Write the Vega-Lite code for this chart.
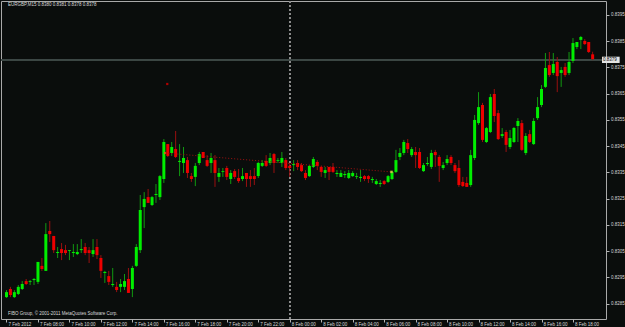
{
"$schema":"https://vega.github.io/schema/vega-lite/v6.json",
"width":605,"height":318,
"autosize":{"type":"none"},
"padding":{"left":1,"top":1,"right":19,"bottom":8},
"background":"#0a0d0c",
"config":{"view":{"stroke":"#a9a9a9","strokeWidth":1,"fill":"#0a0d0c"},"font":"Liberation Sans",
"axis":{"domain":false,"grid":false,"tickColor":"#b4b4b4","tickSize":3,"labelColor":"#d8d8d8","labelFontSize":4.5,"labelFont":"Liberation Sans"}},
"data":{"values":[
{"t":"2012-02-07T06:00","o":0.82875,"h":0.82902,"l":0.82872,"c":0.82894},
{"t":"2012-02-07T06:15","o":0.82906,"h":0.82914,"l":0.82875,"c":0.82883},
{"t":"2012-02-07T06:30","o":0.82875,"h":0.82902,"l":0.82872,"c":0.82894},
{"t":"2012-02-07T06:45","o":0.82887,"h":0.82921,"l":0.82883,"c":0.82914},
{"t":"2012-02-07T07:00","o":0.82906,"h":0.82936,"l":0.82902,"c":0.82925},
{"t":"2012-02-07T07:15","o":0.82936,"h":0.82944,"l":0.82921,"c":0.82925},
{"t":"2012-02-07T07:30","o":0.82933,"h":0.82940,"l":0.82921,"c":0.82936},
{"t":"2012-02-07T07:45","o":0.82940,"h":0.82948,"l":0.82921,"c":0.82944},
{"t":"2012-02-07T08:00","o":0.82933,"h":0.83009,"l":0.82925,"c":0.83009},
{"t":"2012-02-07T08:15","o":0.82994,"h":0.83024,"l":0.82975,"c":0.82982},
{"t":"2012-02-07T08:30","o":0.82975,"h":0.83157,"l":0.82975,"c":0.83115},
{"t":"2012-02-07T08:45","o":0.83127,"h":0.83165,"l":0.83085,"c":0.83115},
{"t":"2012-02-07T09:00","o":0.83108,"h":0.83108,"l":0.83043,"c":0.83054},
{"t":"2012-02-07T09:15","o":0.83043,"h":0.83066,"l":0.83024,"c":0.83047},
{"t":"2012-02-07T09:30","o":0.83058,"h":0.83081,"l":0.83016,"c":0.83043},
{"t":"2012-02-07T09:45","o":0.83054,"h":0.83074,"l":0.83035,"c":0.83043},
{"t":"2012-02-07T10:00","o":0.83051,"h":0.83054,"l":0.83016,"c":0.83054},
{"t":"2012-02-07T10:15","o":0.83043,"h":0.83077,"l":0.83028,"c":0.83047},
{"t":"2012-02-07T10:30","o":0.83039,"h":0.83077,"l":0.83035,"c":0.83047},
{"t":"2012-02-07T10:45","o":0.83054,"h":0.83096,"l":0.83043,"c":0.83058},
{"t":"2012-02-07T11:00","o":0.83066,"h":0.83081,"l":0.83035,"c":0.83043},
{"t":"2012-02-07T11:15","o":0.83054,"h":0.83066,"l":0.83005,"c":0.83043},
{"t":"2012-02-07T11:30","o":0.83039,"h":0.83096,"l":0.83028,"c":0.83054},
{"t":"2012-02-07T11:45","o":0.83066,"h":0.83096,"l":0.83020,"c":0.83035},
{"t":"2012-02-07T12:00","o":0.83024,"h":0.83035,"l":0.82948,"c":0.82975},
{"t":"2012-02-07T12:15","o":0.82967,"h":0.82975,"l":0.82929,"c":0.82971},
{"t":"2012-02-07T12:30","o":0.82955,"h":0.82975,"l":0.82921,"c":0.82933},
{"t":"2012-02-07T12:45","o":0.82921,"h":0.82986,"l":0.82914,"c":0.82925},
{"t":"2012-02-07T13:00","o":0.82914,"h":0.82933,"l":0.82894,"c":0.82902},
{"t":"2012-02-07T13:15","o":0.82914,"h":0.82944,"l":0.82894,"c":0.82925},
{"t":"2012-02-07T13:30","o":0.82914,"h":0.82963,"l":0.82902,"c":0.82936},
{"t":"2012-02-07T13:45","o":0.82944,"h":0.82986,"l":0.82891,"c":0.82891},
{"t":"2012-02-07T14:00","o":0.82906,"h":0.82994,"l":0.82875,"c":0.82986},
{"t":"2012-02-07T14:15","o":0.82994,"h":0.83077,"l":0.82990,"c":0.83066},
{"t":"2012-02-07T14:30","o":0.83054,"h":0.83264,"l":0.83043,"c":0.83207},
{"t":"2012-02-07T14:45","o":0.83218,"h":0.83275,"l":0.83138,"c":0.83249},
{"t":"2012-02-07T15:00","o":0.83256,"h":0.83287,"l":0.83234,"c":0.83234},
{"t":"2012-02-07T15:15","o":0.83226,"h":0.83260,"l":0.83222,"c":0.83256},
{"t":"2012-02-07T15:30","o":0.83264,"h":0.83306,"l":0.83234,"c":0.83268},
{"t":"2012-02-07T15:45","o":0.83256,"h":0.83340,"l":0.83245,"c":0.83336},
{"t":"2012-02-07T16:00","o":0.83325,"h":0.83477,"l":0.83310,"c":0.83466},
{"t":"2012-02-07T16:15","o":0.83458,"h":0.83458,"l":0.83409,"c":0.83413},
{"t":"2012-02-07T16:30","o":0.83424,"h":0.83466,"l":0.83413,"c":0.83447},
{"t":"2012-02-07T16:45","o":0.83439,"h":0.83508,"l":0.83405,"c":0.83409},
{"t":"2012-02-07T17:00","o":0.83390,"h":0.83458,"l":0.83336,"c":0.83394},
{"t":"2012-02-07T17:15","o":0.83386,"h":0.83447,"l":0.83348,"c":0.83405},
{"t":"2012-02-07T17:30","o":0.83397,"h":0.83409,"l":0.83329,"c":0.83348},
{"t":"2012-02-07T17:45","o":0.83336,"h":0.83348,"l":0.83314,"c":0.83325},
{"t":"2012-02-07T18:00","o":0.83333,"h":0.83386,"l":0.83298,"c":0.83375},
{"t":"2012-02-07T18:15","o":0.83386,"h":0.83428,"l":0.83378,"c":0.83420},
{"t":"2012-02-07T18:30","o":0.83428,"h":0.83428,"l":0.83405,"c":0.83405},
{"t":"2012-02-07T18:45","o":0.83397,"h":0.83416,"l":0.83371,"c":0.83375},
{"t":"2012-02-07T19:00","o":0.83386,"h":0.83424,"l":0.83348,"c":0.83405},
{"t":"2012-02-07T19:15","o":0.83397,"h":0.83416,"l":0.83295,"c":0.83348},
{"t":"2012-02-07T19:30","o":0.83333,"h":0.83367,"l":0.83314,"c":0.83348},
{"t":"2012-02-07T19:45","o":0.83352,"h":0.83367,"l":0.83333,"c":0.83355},
{"t":"2012-02-07T20:00","o":0.83367,"h":0.83375,"l":0.83321,"c":0.83333},
{"t":"2012-02-07T20:15","o":0.83325,"h":0.83359,"l":0.83306,"c":0.83348},
{"t":"2012-02-07T20:30","o":0.83355,"h":0.83363,"l":0.83325,"c":0.83333},
{"t":"2012-02-07T20:45","o":0.83329,"h":0.83363,"l":0.83310,"c":0.83317},
{"t":"2012-02-07T21:00","o":0.83325,"h":0.83367,"l":0.83317,"c":0.83336},
{"t":"2012-02-07T21:15","o":0.83348,"h":0.83348,"l":0.83295,"c":0.83325},
{"t":"2012-02-07T21:30","o":0.83336,"h":0.83359,"l":0.83295,"c":0.83325},
{"t":"2012-02-07T21:45","o":0.83336,"h":0.83367,"l":0.83302,"c":0.83325},
{"t":"2012-02-07T22:00","o":0.83336,"h":0.83390,"l":0.83329,"c":0.83386},
{"t":"2012-02-07T22:15","o":0.83375,"h":0.83397,"l":0.83371,"c":0.83386},
{"t":"2012-02-07T22:30","o":0.83394,"h":0.83416,"l":0.83371,"c":0.83375},
{"t":"2012-02-07T22:45","o":0.83386,"h":0.83424,"l":0.83378,"c":0.83405},
{"t":"2012-02-07T23:00","o":0.83420,"h":0.83424,"l":0.83348,"c":0.83386},
{"t":"2012-02-07T23:15","o":0.83394,"h":0.83405,"l":0.83386,"c":0.83397},
{"t":"2012-02-07T23:30","o":0.83386,"h":0.83428,"l":0.83371,"c":0.83405},
{"t":"2012-02-07T23:45","o":0.83397,"h":0.83405,"l":0.83359,"c":0.83367},
{"t":"2012-02-08T00:00","o":0.83375,"h":0.83386,"l":0.83333,"c":0.83367},
{"t":"2012-02-08T00:15","o":0.83378,"h":0.83397,"l":0.83355,"c":0.83382},
{"t":"2012-02-08T00:30","o":0.83386,"h":0.83397,"l":0.83359,"c":0.83371},
{"t":"2012-02-08T00:45","o":0.83378,"h":0.83386,"l":0.83352,"c":0.83355},
{"t":"2012-02-08T01:00","o":0.83348,"h":0.83359,"l":0.83321,"c":0.83329},
{"t":"2012-02-08T01:15","o":0.83336,"h":0.83378,"l":0.83333,"c":0.83375},
{"t":"2012-02-08T01:30","o":0.83371,"h":0.83409,"l":0.83367,"c":0.83401},
{"t":"2012-02-08T01:45","o":0.83390,"h":0.83397,"l":0.83359,"c":0.83375},
{"t":"2012-02-08T02:00","o":0.83371,"h":0.83375,"l":0.83333,"c":0.83352},
{"t":"2012-02-08T02:15","o":0.83348,"h":0.83371,"l":0.83329,"c":0.83359},
{"t":"2012-02-08T02:30","o":0.83371,"h":0.83371,"l":0.83321,"c":0.83352},
{"t":"2012-02-08T02:45","o":0.83371,"h":0.83386,"l":0.83348,"c":0.83352},
{"t":"2012-02-08T03:00","o":0.83344,"h":0.83359,"l":0.83333,"c":0.83348},
{"t":"2012-02-08T03:15","o":0.83333,"h":0.83359,"l":0.83333,"c":0.83348},
{"t":"2012-02-08T03:30","o":0.83340,"h":0.83355,"l":0.83329,"c":0.83344},
{"t":"2012-02-08T03:45","o":0.83329,"h":0.83359,"l":0.83325,"c":0.83348},
{"t":"2012-02-08T04:00","o":0.83336,"h":0.83355,"l":0.83333,"c":0.83348},
{"t":"2012-02-08T04:15","o":0.83333,"h":0.83348,"l":0.83325,"c":0.83336},
{"t":"2012-02-08T04:30","o":0.83329,"h":0.83359,"l":0.83314,"c":0.83333},
{"t":"2012-02-08T04:45","o":0.83336,"h":0.83340,"l":0.83317,"c":0.83325},
{"t":"2012-02-08T05:00","o":0.83336,"h":0.83340,"l":0.83310,"c":0.83325},
{"t":"2012-02-08T05:15","o":0.83321,"h":0.83333,"l":0.83310,"c":0.83325},
{"t":"2012-02-08T05:30","o":0.83306,"h":0.83325,"l":0.83302,"c":0.83317},
{"t":"2012-02-08T05:45","o":0.83306,"h":0.83321,"l":0.83295,"c":0.83310},
{"t":"2012-02-08T06:00","o":0.83317,"h":0.83321,"l":0.83302,"c":0.83306},
{"t":"2012-02-08T06:15","o":0.83314,"h":0.83340,"l":0.83310,"c":0.83336},
{"t":"2012-02-08T06:30","o":0.83325,"h":0.83355,"l":0.83321,"c":0.83352},
{"t":"2012-02-08T06:45","o":0.83352,"h":0.83436,"l":0.83348,"c":0.83397},
{"t":"2012-02-08T07:00","o":0.83409,"h":0.83443,"l":0.83397,"c":0.83424},
{"t":"2012-02-08T07:15","o":0.83424,"h":0.83474,"l":0.83416,"c":0.83466},
{"t":"2012-02-08T07:30","o":0.83462,"h":0.83477,"l":0.83424,"c":0.83439},
{"t":"2012-02-08T07:45","o":0.83416,"h":0.83447,"l":0.83409,"c":0.83439},
{"t":"2012-02-08T08:00","o":0.83428,"h":0.83447,"l":0.83367,"c":0.83416},
{"t":"2012-02-08T08:15","o":0.83428,"h":0.83443,"l":0.83363,"c":0.83367},
{"t":"2012-02-08T08:30","o":0.83355,"h":0.83386,"l":0.83352,"c":0.83378},
{"t":"2012-02-08T08:45","o":0.83382,"h":0.83409,"l":0.83375,"c":0.83386},
{"t":"2012-02-08T09:00","o":0.83371,"h":0.83436,"l":0.83363,"c":0.83424},
{"t":"2012-02-08T09:15","o":0.83428,"h":0.83436,"l":0.83371,"c":0.83416},
{"t":"2012-02-08T09:30","o":0.83409,"h":0.83416,"l":0.83314,"c":0.83375},
{"t":"2012-02-08T09:45","o":0.83367,"h":0.83390,"l":0.83359,"c":0.83378},
{"t":"2012-02-08T10:00","o":0.83386,"h":0.83416,"l":0.83378,"c":0.83401},
{"t":"2012-02-08T10:15","o":0.83409,"h":0.83416,"l":0.83378,"c":0.83386},
{"t":"2012-02-08T10:30","o":0.83378,"h":0.83386,"l":0.83348,"c":0.83355},
{"t":"2012-02-08T10:45","o":0.83367,"h":0.83397,"l":0.83295,"c":0.83302},
{"t":"2012-02-08T11:00","o":0.83314,"h":0.83333,"l":0.83295,"c":0.83298},
{"t":"2012-02-08T11:15","o":0.83310,"h":0.83333,"l":0.83295,"c":0.83295},
{"t":"2012-02-08T11:30","o":0.83302,"h":0.83436,"l":0.83295,"c":0.83416},
{"t":"2012-02-08T11:45","o":0.83405,"h":0.83569,"l":0.83397,"c":0.83550},
{"t":"2012-02-08T12:00","o":0.83538,"h":0.83656,"l":0.83531,"c":0.83599},
{"t":"2012-02-08T12:15","o":0.83607,"h":0.83615,"l":0.83466,"c":0.83474},
{"t":"2012-02-08T12:30","o":0.83466,"h":0.83523,"l":0.83462,"c":0.83519},
{"t":"2012-02-08T12:45","o":0.83504,"h":0.83649,"l":0.83500,"c":0.83637},
{"t":"2012-02-08T13:00","o":0.83649,"h":0.83668,"l":0.83542,"c":0.83565},
{"t":"2012-02-08T13:15","o":0.83576,"h":0.83588,"l":0.83474,"c":0.83477},
{"t":"2012-02-08T13:30","o":0.83489,"h":0.83519,"l":0.83481,"c":0.83496},
{"t":"2012-02-08T13:45","o":0.83504,"h":0.83512,"l":0.83428,"c":0.83455},
{"t":"2012-02-08T14:00","o":0.83447,"h":0.83512,"l":0.83439,"c":0.83481},
{"t":"2012-02-08T14:15","o":0.83466,"h":0.83523,"l":0.83462,"c":0.83519},
{"t":"2012-02-08T14:30","o":0.83527,"h":0.83557,"l":0.83466,"c":0.83546},
{"t":"2012-02-08T14:45","o":0.83538,"h":0.83550,"l":0.83432,"c":0.83436},
{"t":"2012-02-08T15:00","o":0.83424,"h":0.83500,"l":0.83416,"c":0.83489},
{"t":"2012-02-08T15:15","o":0.83496,"h":0.83512,"l":0.83462,"c":0.83466},
{"t":"2012-02-08T15:30","o":0.83458,"h":0.83557,"l":0.83455,"c":0.83546},
{"t":"2012-02-08T15:45","o":0.83557,"h":0.83637,"l":0.83550,"c":0.83599},
{"t":"2012-02-08T16:00","o":0.83607,"h":0.83683,"l":0.83599,"c":0.83668},
{"t":"2012-02-08T16:15","o":0.83676,"h":0.83805,"l":0.83672,"c":0.83748},
{"t":"2012-02-08T16:30","o":0.83759,"h":0.83809,"l":0.83714,"c":0.83721},
{"t":"2012-02-08T16:45","o":0.83729,"h":0.83805,"l":0.83721,"c":0.83763},
{"t":"2012-02-08T17:00","o":0.83771,"h":0.83790,"l":0.83656,"c":0.83717},
{"t":"2012-02-08T17:15","o":0.83729,"h":0.83752,"l":0.83676,"c":0.83740},
{"t":"2012-02-08T17:30","o":0.83752,"h":0.83767,"l":0.83714,"c":0.83721},
{"t":"2012-02-08T17:45","o":0.83729,"h":0.83809,"l":0.83721,"c":0.83771},
{"t":"2012-02-08T18:00","o":0.83775,"h":0.83862,"l":0.83767,"c":0.83843},
{"t":"2012-02-08T18:15","o":0.83828,"h":0.83847,"l":0.83820,"c":0.83847},
{"t":"2012-02-08T18:30","o":0.83855,"h":0.83870,"l":0.83820,"c":0.83866},
{"t":"2012-02-08T18:45","o":0.83851,"h":0.83858,"l":0.83836,"c":0.83839},
{"t":"2012-02-08T19:00","o":0.83847,"h":0.83847,"l":0.83805,"c":0.83809},
{"t":"2012-02-08T19:15","o":0.83800,"h":0.83810,"l":0.83778,"c":0.83782}
]},
"encoding":{
 "x":{"field":"t","type":"temporal","title":null,
  "scale":{"domain":[{"year":2012,"month":2,"date":7,"hours":5,"minutes":58,"seconds":7,"milliseconds":500},{"year":2012,"month":2,"date":8,"hours":19,"minutes":46,"seconds":52,"milliseconds":500}]},
  "axis":{"values":[
   {"year":2012,"month":2,"date":7,"hours":6},{"year":2012,"month":2,"date":7,"hours":8},{"year":2012,"month":2,"date":7,"hours":10},{"year":2012,"month":2,"date":7,"hours":12},{"year":2012,"month":2,"date":7,"hours":14},{"year":2012,"month":2,"date":7,"hours":16},{"year":2012,"month":2,"date":7,"hours":18},{"year":2012,"month":2,"date":7,"hours":20},{"year":2012,"month":2,"date":7,"hours":22},
   {"year":2012,"month":2,"date":8,"hours":0},{"year":2012,"month":2,"date":8,"hours":2},{"year":2012,"month":2,"date":8,"hours":4},{"year":2012,"month":2,"date":8,"hours":6},{"year":2012,"month":2,"date":8,"hours":8},{"year":2012,"month":2,"date":8,"hours":10},{"year":2012,"month":2,"date":8,"hours":12},{"year":2012,"month":2,"date":8,"hours":14},{"year":2012,"month":2,"date":8,"hours":16},{"year":2012,"month":2,"date":8,"hours":18}],
   "labelAlign":"left","labelOffset":1.5,"labelPadding":-1,"labelBaseline":"top","labelOverlap":false,"labelFlush":false,"labelBound":false,
   "format":"%-d %b %H:%M",
   "labelExpr":"datum.label == '7 Feb 06:00' ? '7 Feb 2012' : datum.label"}},
 "y":{"field":"l","type":"quantitative","title":null,
  "scale":{"domain":[0.827916,0.840032],"nice":false,"zero":false},
  "axis":{"orient":"right","values":[0.8285,0.8295,0.8305,0.8315,0.8325,0.8335,0.8345,0.8355,0.8365,0.8375,0.8385,0.8395],"format":".4f","labelPadding":1.5,"labelFlush":false,"labelOverlap":false}}
},
"layer":[
{"mark":{"type":"rule","color":"#3e4847","strokeWidth":1},
 "encoding":{"x":{"value":0},"x2":{"value":605},"y":{"datum":0.83779},"y2":{"datum":0.83779}}},
{"mark":{"type":"rule","color":"#8c8c8c","strokeWidth":1,"strokeDash":[2,2]},
 "encoding":{"x":{"datum":{"year":2012,"month":2,"date":8,"hours":0,"minutes":0}},"y":{"value":0},"y2":{"value":318}}},
{"mark":{"type":"rule","strokeWidth":1},
 "encoding":{
  "y2":{"field":"h"},
  "color":{"condition":{"test":"datum.c >= datum.o","value":"#119a11"},"value":"#9a1010"}}},
{"mark":{"type":"bar","size":3},
 "encoding":{
  "y":{"field":"o","type":"quantitative"},
  "y2":{"field":"c"},
  "color":{"condition":{"test":"datum.c >= datum.o","value":"#00ee00"},"value":"#ee0000"}}},
{"data":{"values":[{"t":"2012-02-07T16:06","p":0.83424},{"t":"2012-02-08T06:28","p":0.83352}]},
 "mark":{"type":"line","color":"#a01010","strokeWidth":1,"strokeDash":[1,2]},
 "encoding":{"y":{"field":"p","type":"quantitative"}}},
{"data":{"values":[{"t":"2012-02-07T16:06","p":0.83424}]},
 "mark":{"type":"point","shape":"triangle-right","size":8,"filled":true,"color":"#ff4a20","opacity":1},
 "encoding":{"y":{"field":"p","type":"quantitative"}}},
{"data":{"values":[{"t":"2012-02-08T06:28","p":0.83352}]},
 "mark":{"type":"point","shape":"square","size":6,"filled":true,"color":"#c8c040","opacity":1},
 "encoding":{"y":{"field":"p","type":"quantitative"}}},
{"data":{"values":[{"t":"2012-02-07T16:13","p":0.83687}]},
 "mark":{"type":"point","shape":"square","size":5,"filled":true,"color":"#b00000","opacity":1},
 "encoding":{"y":{"field":"p","type":"quantitative"}}},
{"data":{"values":[{"t":"2012-02-07T06:00","p":0.83988,"s":"EURGBP,M15  0.8380 0.8381 0.8378 0.8378"},{"t":"2012-02-07T06:00","p":0.82811,"s":"FIBO Group, © 2001-2011 MetaQuotes Software Corp."}]},
 "mark":{"type":"text","align":"left","baseline":"middle","dx":1.5,"fontSize":4.5,"color":"#dcdcdc"},
 "encoding":{"y":{"field":"p","type":"quantitative"},"text":{"field":"s"}}},
{"data":{"values":[{"t":"2012-02-08T19:50:37","t2":"2012-02-08T20:58:00","p":0.83791,"p2":0.83767}]},
 "mark":{"type":"rect","color":"#e4e4e4","clip":false},
 "encoding":{"x2":{"field":"t2"},"y":{"field":"p","type":"quantitative"},"y2":{"field":"p2"}}},
{"data":{"values":[{"t":"2012-02-08T19:50:37","p":0.83779,"s":"0.8379"}]},
 "mark":{"type":"text","align":"left","baseline":"middle","dx":1,"fontSize":4.5,"color":"#000000","clip":false},
 "encoding":{"y":{"field":"p","type":"quantitative"},"text":{"field":"s"}}}
]
}
